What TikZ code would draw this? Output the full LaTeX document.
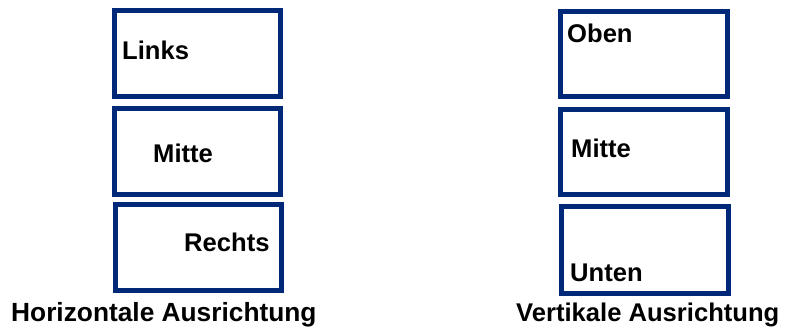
\documentclass[tikz,border=0pt]{standalone}
\usepackage{fontspec}
\setmainfont{Liberation Sans}
\definecolor{navyframe}{RGB}{0,40,120}
\begin{document}
\begin{tikzpicture}[x=1pt,y=-1pt,
  frame/.style={draw=navyframe, line width=5pt, fill=white, inner sep=0pt, rectangle},
  lbl/.style={anchor=base west, inner sep=0pt, font=\fontsize{25.6}{30}\selectfont\bfseries, text=black}]
\useasboundingbox (0,0) rectangle (785,327);
% left column boxes
\node[frame, minimum width=166pt, minimum height=86pt] (l1) at (197.5,53.5) {};
\node[frame, minimum width=166pt, minimum height=86pt] (l2) at (197.5,151.5) {};
\node[frame, minimum width=166pt, minimum height=86pt] (l3) at (198.5,247.5) {};
% right column boxes
\node[frame, minimum width=167pt, minimum height=85pt] (r1) at (644,54) {};
\node[frame, minimum width=167pt, minimum height=85pt] (r2) at (644,152) {};
\node[frame, minimum width=167pt, minimum height=87pt] (r3) at (645,250) {};
% labels
\node[lbl] (tl1) at (122,59) {Links};
\node[lbl] (tl2) at (153,162) {Mitte};
\node[lbl] (tl3) at (184,251) {Rechts};
\node[lbl] (tr1) at (567,42) {Oben};
\node[lbl] (tr2) at (571,157) {Mitte};
\node[lbl] (tr3) at (570,281) {Unten};
\node[lbl, font=\fontsize{26.3}{30}\selectfont\bfseries] (capl) at (11,321) {Horizontale Ausrichtung};
\node[lbl] (capr) at (516,321) {Vertikale Ausrichtung};
\end{tikzpicture}
\end{document}
